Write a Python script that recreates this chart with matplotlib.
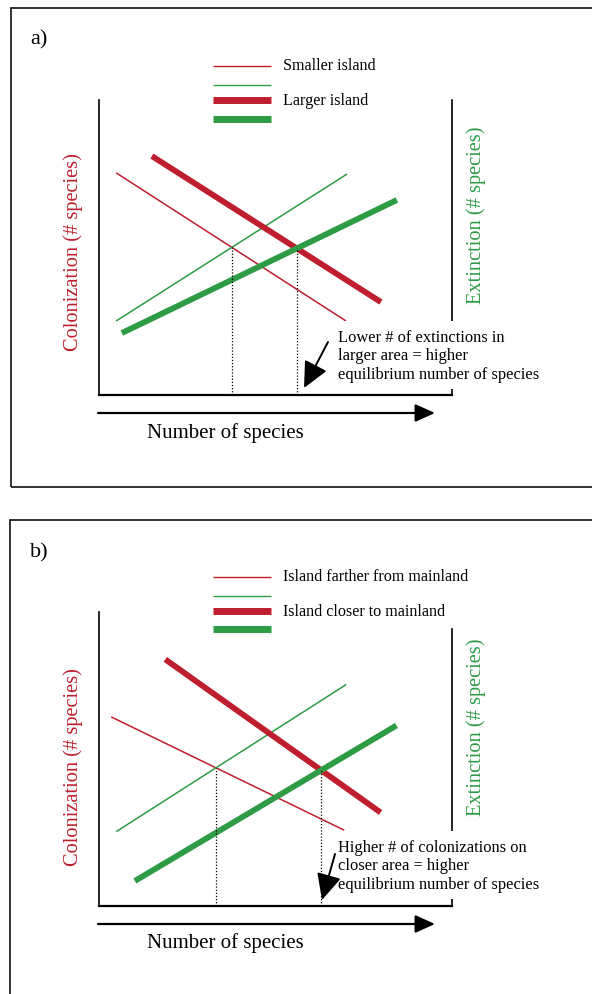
import numpy as np
import matplotlib
matplotlib.use("Agg")
from matplotlib import pyplot as plt
from matplotlib.patches import Rectangle
from matplotlib.lines import Line2D

plt.rcParams['font.family'] = ['Liberation Serif', 'DejaVu Serif']

RED = '#BE1E2D'
GREEN = '#2E9B45'

W, H = 592, 994

# panel data, in axis units (0-100 on both axes)
panel_labels = ['a)', 'b)']
legend_thin = ['Smaller island', 'Island farther from mainland']
legend_thick = ['Larger island', 'Island closer to mainland']
notes = ['Lower # of extinctions in\nlarger area = higher\nequilibrium number of species',
         'Higher # of colonizations on\ncloser area = higher\nequilibrium number of species']

# colonization (red) and extinction (green) lines: [x0, x1], [y0, y1]
col_thin_x = [[5.0, 70.0], [3.6, 69.5]]
col_thin_y = [[75.3, 25.1], [64.1, 25.7]]
col_thick_x = [[15.1, 79.9], [18.9, 79.8]]
col_thick_y = [[81.0, 31.5], [83.6, 31.7]]
ext_thin_x = [[5.0, 70.3], [5.0, 70.1]]
ext_thin_y = [[25.1, 74.9], [25.2, 75.1]]
ext_thick_x = [[6.6, 84.4], [10.3, 84.3]]
ext_thick_y = [[21.0, 66.1], [8.5, 61.2]]


def fx(px):
    return px / W


def fy(py):
    return 1 - py / H


def crossing(x1, y1, x2, y2):
    # intersection of two straight lines given by end points
    a1 = np.polyfit(x1, y1, 1)
    a2 = np.polyfit(x2, y2, 1)
    x = (a2[1] - a1[1]) / (a1[0] - a2[0])
    return x, np.polyval(a1, x)


fig = plt.figure(figsize=(W / 100, H / 100), dpi=100)

offsets = [0, 511]
boxes = [(11, 8, 600, 479), (10, 520, 600, 500)]
right_top = [100, 629]
left_top = [100, 612]

for i in range(2):
    dy = offsets[i]
    # outer box
    bx, by, bw, bh = boxes[i]
    fig.patches.append(Rectangle((fx(bx), fy(by + bh)), bw / W, bh / H,
                                 transform=fig.transFigure, fill=False,
                                 edgecolor='#222222', lw=1.3))
    fig.text(fx(30), fy(40 + dy + (2 if i else 0)), panel_labels[i], fontsize=16,
             ha='left', va='center')

    # legend
    leg_y = [66, 85, 100, 119] if i == 0 else [577, 596, 611, 629]
    styles = [(RED, 1.0), (GREEN, 1.0), (RED, 5.0), (GREEN, 5.0)]
    for ly, (c, w) in zip(leg_y, styles):
        fig.lines.append(Line2D([fx(213), fx(271)], [fy(ly), fy(ly)],
                                transform=fig.transFigure, color=c, lw=w,
                                solid_capstyle='butt'))
    fig.text(fx(283), fy(leg_y[0]), legend_thin[i], fontsize=11.6, va='center')
    fig.text(fx(283), fy(leg_y[2] + 1), legend_thick[i], fontsize=11.6, va='center')

    # plot area
    bottom = 395 + (511 if i else 0)
    ax = fig.add_axes([fx(98.5), fy(bottom), (452 - 98.5) / W, 295 / H])
    ax.set_xlim(0, 100)
    ax.set_ylim(0, 100)
    ax.axis('off')

    ax.plot(col_thin_x[i], col_thin_y[i], color=RED, lw=1.1, solid_capstyle='butt')
    ax.plot(ext_thin_x[i], ext_thin_y[i], color=GREEN, lw=1.1, solid_capstyle='butt')
    ax.plot(col_thick_x[i], col_thick_y[i], color=RED, lw=4.2, solid_capstyle='butt')
    ax.plot(ext_thick_x[i], ext_thick_y[i], color=GREEN, lw=4.2, solid_capstyle='butt')

    # equilibrium points
    for xs1, ys1, xs2, ys2 in [(col_thin_x[i], col_thin_y[i], ext_thin_x[i], ext_thin_y[i]),
                               (col_thick_x[i], col_thick_y[i], ext_thick_x[i], ext_thick_y[i])]:
        xe, ye = crossing(xs1, ys1, xs2, ys2)
        ax.plot([xe, xe], [0, ye], color='black', lw=0.9, ls=(0, (1, 1.5)))

    # axes lines
    ax.plot([0, 0], [0, (bottom - left_top[i]) / 2.95], color='black', lw=1.2,
            clip_on=False)
    ax.plot([0, 100], [0, 0], color='black', lw=1.6, clip_on=False)
    ax.plot([100, 100], [0, (bottom - right_top[i]) / 2.95], color='black', lw=1.2,
            clip_on=False)

    # axis titles
    fig.text(fx(73), fy(252 + dy + (4 if i else 0)), 'Colonization (# species)',
             color=RED, fontsize=14.7, rotation=90, ha='center', va='center')
    fig.text(fx(476), fy(215 + dy + (1 if i else 0)), 'Extinction (# species)',
             color=GREEN, fontsize=14.7, rotation=90, ha='center', va='center')

    # number of species arrow
    ay = 413 + (511 if i else 0)
    fig.add_artist(matplotlib.patches.FancyArrowPatch(
        (fx(98), fy(ay)), (fx(435), fy(ay)), transform=fig.transFigure,
        arrowstyle='-|>,head_length=0.6,head_width=0.27', mutation_scale=20,
        color='black', lw=1.6, shrinkA=0, shrinkB=0))
    fig.text(fx(225), fy(433 + (510 if i else 0)), 'Number of species', fontsize=15,
             ha='center', va='center')

    # note with white background
    nt = 321 if i == 0 else 831
    fig.patches.append(Rectangle((fx(333), fy(nt + 68)), 212 / W, 68 / H,
                                 transform=fig.transFigure, facecolor='white',
                                 edgecolor='none', zorder=3))
    fig.text(fx(338.5), fy(nt + 9), notes[i], fontsize=11.9, va='top', ha='left',
             linespacing=1.2, zorder=4)
    if i == 0:
        a0, a1 = (328, 342), (304, 388)
    else:
        a0, a1 = (335, 854), (322, 900)
    fig.add_artist(matplotlib.patches.FancyArrowPatch(
        (fx(a0[0]), fy(a0[1])), (fx(a1[0]), fy(a1[1])), transform=fig.transFigure,
        arrowstyle='-|>,head_length=0.8,head_width=0.38', mutation_scale=20,
        color='black', lw=1.4, shrinkA=0, shrinkB=0, zorder=5))

fig.savefig('out.png', dpi=100)
